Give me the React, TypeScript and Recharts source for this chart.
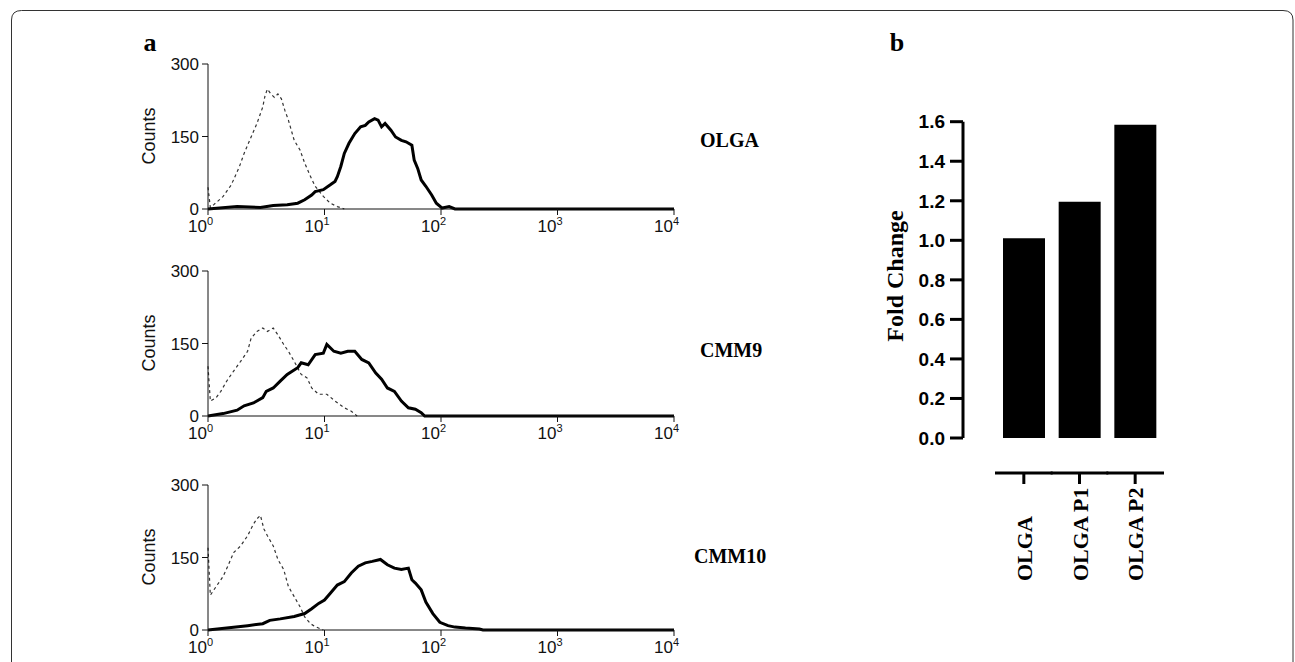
import { Bar, BarChart, Line, LineChart, XAxis, YAxis } from 'recharts'

// Panel a — flow cytometry histograms, x stored as log10 decade, y as counts
const DECADE_TICKS = [1, 10, 100, 1000, 10000]
const COUNT_TICKS = [0, 150, 300]

const olgaIsoLog = [0, 0.02, 0.05, 0.13, 0.2, 0.27, 0.31, 0.37, 0.42, 0.47, 0.49, 0.51, 0.54, 0.57, 0.6, 0.63, 0.66, 0.69, 0.74, 0.79, 0.83, 0.88, 0.92, 0.99, 1.05, 1.11, 1.17]
const olgaIsoCounts = [45, 3, 9, 26, 50, 88, 115, 149, 177, 211, 235, 248, 238, 231, 238, 228, 204, 184, 142, 122, 95, 67, 47, 26, 12, 5, 0]
const olgaStainLog = [0, 0.25, 0.45, 0.56, 0.68, 0.77, 0.83, 0.89, 0.92, 0.99, 1.05, 1.09, 1.11, 1.14, 1.17, 1.21, 1.26, 1.31, 1.35, 1.38, 1.43, 1.46, 1.49, 1.52, 1.57, 1.61, 1.66, 1.7, 1.75, 1.77, 1.8, 1.83, 1.87, 1.92, 1.96, 2.01, 2.07, 2.12, 4]
const olgaStainCounts = [0, 5, 3, 7, 9, 12, 19, 29, 36, 40, 50, 57, 67, 88, 115, 136, 156, 170, 173, 180, 187, 184, 170, 177, 163, 149, 142, 139, 132, 101, 84, 60, 47, 29, 12, 2, 5, 0, 0]

const cmm9IsoLog = [0, 0.02, 0.07, 0.11, 0.16, 0.22, 0.28, 0.34, 0.37, 0.42, 0.47, 0.51, 0.56, 0.6, 0.65, 0.69, 0.74, 0.8, 0.85, 0.89, 0.95, 1.02, 1.09, 1.17, 1.23, 1.28]
const cmm9IsoCounts = [103, 31, 38, 51, 72, 93, 113, 134, 161, 175, 182, 175, 182, 168, 148, 134, 113, 86, 79, 58, 45, 45, 31, 17, 10, 0]
const cmm9StainLog = [0, 0.13, 0.25, 0.31, 0.39, 0.47, 0.5, 0.56, 0.62, 0.68, 0.77, 0.8, 0.86, 0.92, 0.99, 1.02, 1.08, 1.14, 1.2, 1.26, 1.32, 1.38, 1.44, 1.49, 1.54, 1.6, 1.66, 1.72, 1.78, 1.83, 1.86, 4]
const cmm9StainCounts = [0, 5, 12, 21, 27, 38, 51, 58, 72, 86, 100, 110, 106, 127, 130, 148, 134, 130, 134, 134, 117, 110, 89, 76, 58, 51, 31, 17, 14, 7, 0, 0]

const cmm10IsoLog = [0, 0.02, 0.07, 0.13, 0.17, 0.22, 0.28, 0.34, 0.39, 0.42, 0.45, 0.48, 0.51, 0.56, 0.6, 0.65, 0.69, 0.74, 0.79, 0.83, 0.88, 0.92, 0.99]
const cmm10IsoCounts = [170, 72, 90, 111, 132, 160, 174, 195, 219, 230, 237, 209, 195, 174, 146, 125, 90, 69, 48, 27, 13, 7, 0]
const cmm10StainLog = [0, 0.16, 0.34, 0.47, 0.53, 0.62, 0.74, 0.83, 0.89, 0.95, 1.0, 1.05, 1.11, 1.17, 1.23, 1.29, 1.35, 1.41, 1.48, 1.54, 1.6, 1.66, 1.72, 1.75, 1.78, 1.83, 1.87, 1.93, 1.99, 2.06, 2.12, 2.21, 2.33, 2.36, 4]
const cmm10StainCounts = [0, 4, 9, 13, 20, 23, 28, 34, 44, 55, 62, 76, 93, 100, 118, 132, 139, 142, 146, 135, 128, 125, 128, 104, 97, 83, 58, 34, 16, 9, 6, 4, 2, 0, 0]

// Panel b — fold change
const samples = ['OLGA', 'OLGA P1', 'OLGA P2']
const foldChange = [1.01, 1.195, 1.585]
const FOLD_TICKS = [0, 0.2, 0.4, 0.6, 0.8, 1.0, 1.2, 1.4, 1.6]

const SANS = 'Arial, "Liberation Sans", sans-serif'
const SERIF = '"Times New Roman", "Liberation Serif", serif'

function toPoints(logs: number[], counts: number[]) {
  return logs.map((d, i) => ({ x: Math.pow(10, d), y: counts[i] }))
}

function DecadeTick(props: any) {
  const { x, y, payload } = props
  const exp = Math.round(Math.log10(payload.value))
  return (
    <text x={x + 5} y={y} dy={15} textAnchor="end" fontFamily={SANS} fontSize={17} fill="#111">
      10
      <tspan dy={-7} fontSize={11}>
        {exp}
      </tspan>
    </text>
  )
}

function Histogram({ top, iso, stain }: { top: number; iso: { x: number; y: number }[]; stain: { x: number; y: number }[] }) {
  return (
    <div style={{ position: 'absolute', left: 130, top: top - 14, width: 560, height: 210 }}>
      <LineChart width={560} height={210} margin={{ top: 14, right: 16, bottom: 11, left: 0 }}>
        <XAxis
          type="number"
          dataKey="x"
          scale="log"
          domain={[1, 10000]}
          ticks={DECADE_TICKS}
          interval={0}
          height={40}
          tickSize={6}
          tickMargin={2}
          stroke="#111"
          tick={<DecadeTick />}
        />
        <XAxis xAxisId="top" orientation="top" type="number" scale="log" domain={[1, 10000]} height={0} tick={false} tickLine={false} stroke="#111" />
        <YAxis
          type="number"
          dataKey="y"
          domain={[0, 300]}
          ticks={COUNT_TICKS}
          interval={0}
          width={78}
          tickSize={6}
          tickMargin={3}
          stroke="#111"
          tick={{ fill: '#111', fontSize: 17, fontFamily: SANS }}
        />
        <YAxis yAxisId="right" orientation="right" domain={[0, 300]} width={0} tick={false} tickLine={false} stroke="#111" />
        <Line data={iso} dataKey="y" type="linear" stroke="#333" strokeWidth={1.2} strokeDasharray="3 3" dot={false} isAnimationActive={false} />
        <Line data={stain} dataKey="y" type="linear" stroke="#000" strokeWidth={3} dot={false} isAnimationActive={false} />
      </LineChart>
    </div>
  )
}

function SampleTick(props: any) {
  const { x, y, payload } = props
  const half = payload && payload.offset ? payload.offset : 28
  const ly = y + 35
  const tx = x + 8
  const ty = y + 143
  return (
    <g>
      <line x1={x - half - 1} x2={x + half + 1} y1={ly} y2={ly} stroke="#000" strokeWidth={3} />
      <line x1={x} x2={x} y1={ly} y2={ly + 11} stroke="#000" strokeWidth={3} />
      <text x={tx} y={ty} transform={`rotate(-90, ${tx}, ${ty})`} textAnchor="start" fontFamily={SERIF} fontWeight="bold" fontSize={22} fill="#000">
        {payload.value}
      </text>
    </g>
  )
}

const barData = samples.map((s, i) => ({ sample: s, fold: foldChange[i] }))

export default function App() {
  return (
    <div style={{ position: 'absolute', left: 0, top: 0, width: 1295, height: 662, background: '#fff', overflow: 'hidden' }}>
      <Histogram top={64} iso={toPoints(olgaIsoLog, olgaIsoCounts)} stain={toPoints(olgaStainLog, olgaStainCounts)} />
      <Histogram top={271} iso={toPoints(cmm9IsoLog, cmm9IsoCounts)} stain={toPoints(cmm9StainLog, cmm9StainCounts)} />
      <Histogram top={485} iso={toPoints(cmm10IsoLog, cmm10IsoCounts)} stain={toPoints(cmm10StainLog, cmm10StainCounts)} />

      <div style={{ position: 'absolute', left: 880, top: 90, width: 300, height: 520 }}>
        <BarChart width={300} height={520} data={barData} margin={{ top: 31.7, right: 17, bottom: 22, left: 0 }}>
          <XAxis
            dataKey="sample"
            type="category"
            padding={{ left: 33, right: 0 }}
            axisLine={false}
            tickLine={false}
            tickSize={0}
            tickMargin={0}
            interval={0}
            height={150}
            tick={<SampleTick />}
          />
          <YAxis
            domain={[0, 1.6]}
            ticks={FOLD_TICKS}
            interval={0}
            width={83}
            tickSize={13}
            tickMargin={5}
            stroke="#000"
            axisLine={{ stroke: '#000', strokeWidth: 3 }}
            tickLine={{ stroke: '#000', strokeWidth: 3 }}
            tickFormatter={(v: number) => v.toFixed(1)}
            tick={{ fill: '#000', fontSize: 19, fontWeight: 'bold', fontFamily: SANS }}
          />
          <Bar dataKey="fold" fill="#000" barSize={42} isAnimationActive={false} />
        </BarChart>
      </div>

      <svg width={1295} height={662} style={{ position: 'absolute', left: 0, top: 0, pointerEvents: 'none' }}>
        <path d="M11.5,700 L11.5,20 Q11.5,10.5 21.5,10.5 L1283,10.5 Q1293,10.5 1293,20 L1293,700" fill="none" stroke="#333" strokeWidth={1} />
        <text x={150} y={51} textAnchor="middle" fontFamily={SERIF} fontWeight="bold" fontSize={26}>a</text>
        <text x={897} y={51} textAnchor="middle" fontFamily={SERIF} fontWeight="bold" fontSize={26}>b</text>
        {[136, 343, 557].map((cy) => (
          <text key={cy} x={155} y={cy} transform={`rotate(-90, 155, ${cy})`} textAnchor="middle" fontFamily={SANS} fontSize={18} fill="#111">
            Counts
          </text>
        ))}
        <text x={700} y={147} fontFamily={SERIF} fontWeight="bold" fontSize={20}>OLGA</text>
        <text x={700} y={357} fontFamily={SERIF} fontWeight="bold" fontSize={20}>CMM9</text>
        <text x={694} y={563} fontFamily={SERIF} fontWeight="bold" fontSize={20}>CMM10</text>
        <text x={903} y={276} transform="rotate(-90, 903, 276)" textAnchor="middle" fontFamily={SERIF} fontWeight="bold" fontSize={24}>
          Fold Change
        </text>
      </svg>
    </div>
  )
}
